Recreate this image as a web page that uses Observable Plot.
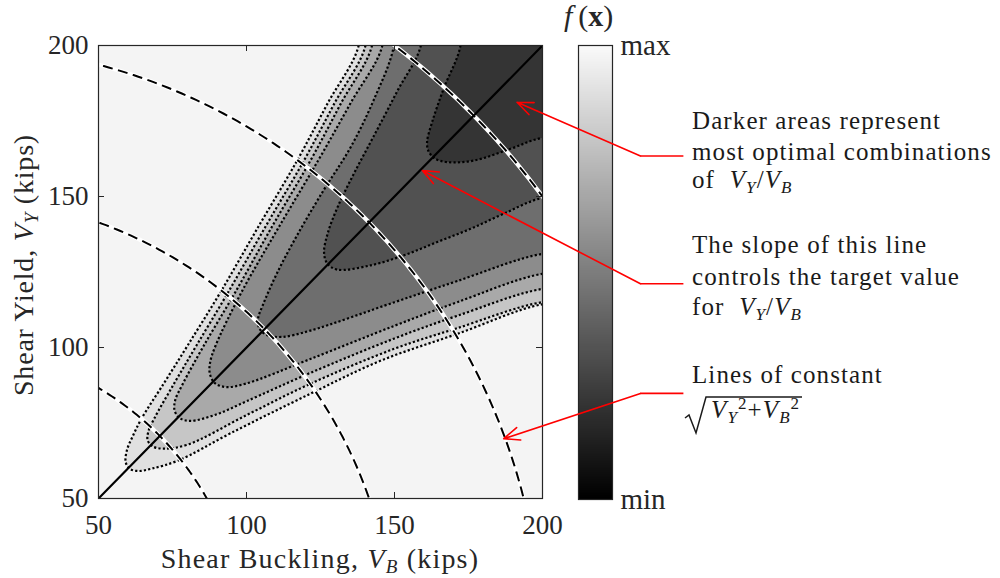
<!DOCTYPE html>
<html><head><meta charset="utf-8">
<script src="https://cdn.jsdelivr.net/npm/d3@7"></script>
<script src="https://cdn.jsdelivr.net/npm/@observablehq/plot@0.6"></script>
<style>
body{margin:0;background:#fff;}
#wrap{position:relative;width:1000px;height:578px;overflow:hidden;font-family:"Liberation Serif",serif;color:#262626;}
.abs{position:absolute;white-space:nowrap;}
sub{font-size:0.68em;vertical-align:-0.28em;line-height:0;}
sup{font-size:0.68em;vertical-align:0.55em;line-height:0;}
.note{font-size:25px;letter-spacing:1.1px;color:#1a1a1a;line-height:25px;}
</style></head><body><div id="wrap"></div>
<script>
// ---------------- data ----------------
const VB_TICKS = [50, 100, 150, 200];
const VY_TICKS = [50, 100, 150, 200];
const RADII = [100, 150, 200, 250];          // lines of constant sqrt(VY^2+VB^2)
const TARGET_RATIO = 1;                      // VY/VB target line
// contour lines of f(x): [VB, VY] from top edge, down the upper branch, round the tip, along the lower branch to the right edge
const CONTOUR_A = [[137.9,200],[127.5,181],[117.1,161.9],[104,140],[91.2,118.3],[80,100.5],[72,88],[64.5,76.4],[61.5,70.5],[59.6,66],[59.2,62],[60.6,59.8],[63.5,59.1],[68,59.9],[77,62.6],[95,71.8],[121.6,84.7],[145,95.5],[171.2,104.5],[200,114.3]];
const CONTOUR_B = [[140.2,200],[129.8,181],[119.4,161.9],[106.4,140],[93.8,118.3],[83,100.5],[75.5,88],[68.8,76.4],[66.8,72],[66.6,69.3],[68.2,67.3],[72,66.5],[80,67.8],[100,77.6],[121.6,88],[150,99.6],[171.2,106.4],[200,115]];
const CONTOUR_C = [[142.4,200],[132,181],[121.6,161.9],[108.6,140],[96.2,118.3],[85.5,100.5],[78.5,88],[75.9,82.5],[75.7,79.2],[77.3,76.7],[81,75.7],[90,77.9],[100,82.2],[121.6,91.6],[150,103],[171.2,110.5],[200,119.4]];
const CONTOUR_D = [[145.9,200],[135.2,181],[124.2,161.9],[111,140],[98.3,118.3],[89.5,100.5],[87.7,95],[87.6,91.4],[89.2,88.3],[93,86.9],[100,88.1],[121.6,96.2],[150,107.2],[171.2,115],[200,124.4]];
const CONTOUR_E = [[149.8,200],[143,182],[135,166],[126,152],[117,137],[110,124],[105.5,114],[103.9,109.5],[104.4,106.2],[107,104.1],[112,103.5],[121.6,105.6],[150,115],[171.2,122],[200,131]];
const CONTOUR_F = [[158.9,200],[151,185],[143,170],[136.5,158],[131,147],[127.5,138],[126.2,131.5],[127.3,127.8],[130.6,125.8],[141.9,127.2],[153.1,130.5],[164.4,134.9],[175.7,139.3],[186.9,144.3],[200,149.5]];
const CONTOUR_G = [[172.3,200],[166.6,185.7],[162.7,174.6],[161,168],[161.5,165],[163.6,162.6],[167.8,161.4],[176.8,161.9],[189.2,165.8],[200,169.4]];
const CONTOURS = [CONTOUR_A, CONTOUR_B, CONTOUR_C, CONTOUR_D, CONTOUR_E, CONTOUR_F, CONTOUR_G];
// annotation arrows (data coordinates: tip, bend, end of horizontal leader)
const ARROW_TIP_VB = [191.4, 159.4, 186.9];
const ARROW_TIP_VY = [181.2, 158.6, 69.8];
const ARROW_BEND_VB = [233.1, 233.1, 233.1];
const ARROW_BEND_VY = [163.4, 121.1, 84.8];
const ARROW_END_VB = [247.6, 247.6, 247.6];

// ---------------- rendering ----------------
const SHADES = ["#e0e0e0", "#c6c6c6", "#a9a9a9", "#8c8c8c", "#6e6e6e", "#515151", "#343434"];
const wrap = document.getElementById("wrap");

function ext(c) {
  const f = c[0], l = c[c.length - 1];
  return [[f[0], 216], ...c, [216, l[1]], [216, 216]];
}
const arcs = RADII.flatMap(r => d3.range(0, 90.01, 0.5).map(a => ({r, x: r * Math.cos(a * Math.PI / 180), y: r * Math.sin(a * Math.PI / 180)})));
const diag = VB_TICKS.filter((d, i) => i === 0 || i === VB_TICKS.length - 1).map(v => ({x: v, y: TARGET_RATIO * v}));
const arrows = ARROW_TIP_VB.map((d, i) => ({tx: d, ty: ARROW_TIP_VY[i], bx: ARROW_BEND_VB[i], by: ARROW_BEND_VY[i], ex: ARROW_END_VB[i]}));

// colorbar
const cb = Plot.plot({
  width: 120, height: 520, marginLeft: 18, marginRight: 68, marginTop: 45, marginBottom: 21,
  style: {fontFamily: "Liberation Serif", fontSize: "29px", color: "#262626", background: "transparent"},
  x: {domain: [0, 1], axis: null},
  y: {domain: [0, 1], ticks: [0, 1], tickFormat: d => d ? "max" : "min", axis: "right", tickSize: 0, tickPadding: 8, label: null},
  color: {type: "linear", domain: [0, 1], range: ["#000000", "#fafafa"]},
  marks: [
    Plot.raster({x1: 0, x2: 1, y1: 0, y2: 1, fill: (x, y) => y, width: 2, height: 256, imageRendering: "auto"}),
    Plot.frame({stroke: "#262626", strokeWidth: 1.2})
  ]
});
cb.style.position = "absolute"; cb.style.left = "560px"; cb.style.top = "0px";
wrap.appendChild(cb);

const marks = [Plot.frame({fill: "#f4f4f4"})];
CONTOURS.forEach((c, i) => marks.push(Plot.line(ext(c), {x: d => d[0], y: d => d[1], fill: SHADES[i], stroke: "none", curve: "catmull-rom", clip: true})));
CONTOURS.forEach(c => marks.push(Plot.line(ext(c), {x: d => d[0], y: d => d[1], stroke: "#000", strokeWidth: 2.2, strokeDasharray: "2.2,2.2", strokeLinecap: "butt", curve: "catmull-rom", clip: true})));
marks.push(
  Plot.line(arcs, {x: "x", y: "y", z: "r", stroke: "#fff", strokeWidth: 4.2, clip: true}),
  Plot.line(arcs, {x: "x", y: "y", z: "r", stroke: "#000", strokeWidth: 2, strokeDasharray: "10,5.5", strokeLinecap: "butt", clip: true}),
  Plot.line(diag, {x: "x", y: "y", stroke: "#000", strokeWidth: 2.2, clip: true}),
  Plot.tickX(VB_TICKS, {x: d => d, insetTop: 447, stroke: "#262626"}),
  Plot.tickX(VB_TICKS, {x: d => d, insetBottom: 447, stroke: "#262626"}),
  Plot.tickY(VY_TICKS, {y: d => d, insetRight: 438, stroke: "#262626"}),
  Plot.tickY(VY_TICKS, {y: d => d, insetLeft: 438, stroke: "#262626"}),
  Plot.frame({stroke: "#262626", strokeWidth: 1.2}),
  Plot.link(arrows, {x1: "bx", y1: "by", x2: "ex", y2: "by", stroke: "#ff0000", strokeWidth: 1.6}),
  Plot.arrow(arrows, {x1: "bx", y1: "by", x2: "tx", y2: "ty", stroke: "#ff0000", strokeWidth: 1.6, headLength: 16, headAngle: 45})
);
const main = Plot.plot({
  width: 1000, height: 578, marginLeft: 98, marginRight: 458, marginTop: 45, marginBottom: 80,
  style: {fontFamily: "Liberation Serif", fontSize: "27px", color: "#262626", background: "transparent", overflow: "visible"},
  x: {domain: [50, 200], ticks: VB_TICKS, tickFormat: d => d, tickSize: 0, tickPadding: 16, label: null},
  y: {domain: [50, 200], ticks: VY_TICKS, tickFormat: d => d, tickSize: 0, tickPadding: 10, label: null},
  marks
});
main.style.position = "absolute"; main.style.left = "0px"; main.style.top = "0px";
wrap.appendChild(main);

// text (titles and notes)
function put(html, x, baseline, fs, cls, extra) {
  const d = document.createElement("div");
  d.className = "abs " + (cls || "");
  d.style.fontSize = fs + "px"; d.style.lineHeight = fs + "px";
  d.style.left = x + "px"; d.style.top = (baseline - 0.8375 * fs) + "px";
  if (extra) Object.assign(d.style, extra);
  d.innerHTML = html; wrap.appendChild(d); return d;
}
put("Shear Buckling, <i>V<sub>B</sub></i> (kips)", 0, 568, 28, "", {width: "640px", textAlign: "center", letterSpacing: "1.2px"});
const yl = put("Shear Yield, <i>V<sub>Y</sub></i> (kips)", 0, 0, 28, "", {width: "320px", textAlign: "center", letterSpacing: "0.8px", transformOrigin: "160px 14px"});
yl.style.left = (24 - 160) + "px";
yl.style.top = (265 - 14) + "px";
yl.style.transform = "rotate(-90deg)";
put("<i>f</i>&#8201;(<b>x</b>)", 564, 26, 30, "");
const vyvb = "<i>V<sub>Y</sub></i>/<i>V<sub>B</sub></i>";
put("Darker areas represent", 692, 129, 25, "note");
put("most optimal combinations", 692, 160, 25, "note");
put("of&nbsp; " + vyvb, 692, 188, 25, "note");
put("The slope of this line", 692, 253, 25, "note");
put("controls the target value", 692, 285, 25, "note");
put("for&nbsp; " + vyvb, 692, 315, 25, "note");
put("Lines of constant", 692, 383, 25, "note");
put('<svg width="120" height="42" style="position:absolute;left:0;top:-1px;overflow:visible"><path d="M1,22 L5,19 L12,37 L22,1 L118,1" fill="none" stroke="#1a1a1a" stroke-width="1.5"/></svg><span style="margin-left:27px"><i>V<sub>Y</sub></i><sup>2</sup>+<i>V<sub>B</sub></i><sup>2</sup></span>', 684, 418, 25, "note");
</script></body></html>
